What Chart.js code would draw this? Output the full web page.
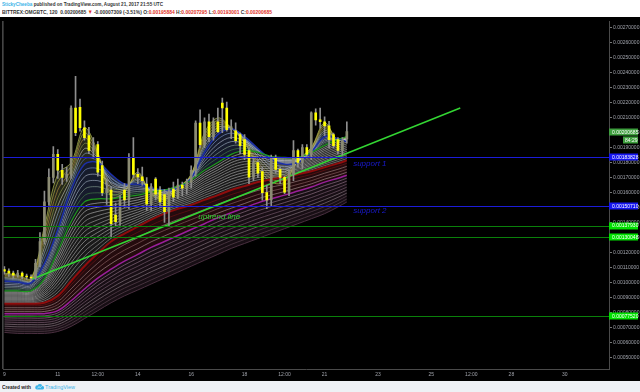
<!DOCTYPE html>
<html><head><meta charset="utf-8">
<script src="https://cdn.jsdelivr.net/npm/chart.js@4.4.1/dist/chart.umd.min.js"></script>
<style>
html,body{margin:0;padding:0;background:#fff;width:640px;height:392px;overflow:hidden;font-family:"Liberation Sans",Arial,sans-serif;}
.ln{position:absolute;left:2px;white-space:nowrap;font-weight:bold;font-size:6px;line-height:7px;color:#333;transform-origin:0 50%;}
#h1{top:1px;}
#h2{top:8.5px;}
.u{color:#3cb4e8}
.r{color:#e0301e}
#wrap{position:absolute;left:0;top:17px;width:640px;height:364px;background:#000;}
#foot{position:absolute;left:0;top:381px;width:640px;height:11px;background:#eef1f5;}
#f1{top:2.5px;color:#222;}
#f2{top:2.5px;left:45px;color:#3cb4e8;font-weight:normal;}
#logo{position:absolute;left:35px;top:2px;}
</style></head>
<body>
<div id="h1" class="ln"><span class="u">StickyCheeba</span> published on TradingView.com, August 21, 2017 21:55 UTC</div>
<div id="h2" class="ln">BITTREX:OMGBTC, 120&nbsp; 0.00200685 <span class="r">&#9660;</span> -0.00007309 (-3.51%) O:<span class="r">0.00195884</span> H:<span class="r">0.00207295</span> L:<span class="r">0.00193001</span> C:<span class="r">0.00200685</span></div>
<div id="wrap"><canvas id="c" width="640" height="364"></canvas></div>
<div id="foot">
<div id="f1" class="ln">Created with</div>
<svg id="logo" width="9" height="7" viewBox="0 0 9 7"><path d="M2 6.5h5.2a1.8 1.8 0 0 0 .2-3.6A2.6 2.6 0 0 0 2.6 2.4 2 2 0 0 0 2 6.5z" fill="#3cb4e8"/><path d="M2.5 5l1.5-1.3 1.2.9 1.6-1.6" stroke="#fff" stroke-width=".7" fill="none"/></svg>
<div id="f2" class="ln">TradingView</div>
</div>
<script>
// ---- candle data (2017-08-09 00:00 + hours), prices in 1e-5 BTC ----
const hours = [0,4,8,12,16,20,24,28,32,36,40,44,48,52,56,60,64,68,72,76,80,84,88,92,96,100,104,108,112,116,120,124,128,132,136,140,144,148,152,156,160,164,168,172,176,180,184,188,192,196,200,204,208,212,216,220,224,228,232,236,240,244,248,252,256,260,264,268,272,276,280,284,288,292,296,300,304,308];
const opens = [108.5,107.5,106.2,104.8,106.2,104.2,103.6,102.9,112.8,127.3,153.8,170.2,185.5,174.9,170.2,172.2,216.5,217.0,203.3,198.0,188.1,192.1,178.0,160.0,161.7,145.0,140.6,161.7,155.1,183.5,172.2,170.5,165.7,152.4,169.0,161.7,158.6,147.3,162.3,157.0,165.0,163.0,167.0,174.9,206.4,192.0,207.3,197.4,207.3,219.8,216.5,202.0,201.3,198.7,195.4,188.1,170.3,180.1,174.0,160.0,155.1,183.5,175.5,170.2,160.3,172.2,188.1,180.2,190.1,185.5,213.2,208.6,207.3,204.6,198.7,195.4,188.1,195.884];
const highs = [110.5,109.0,107.5,108.0,107.0,105.5,105.0,115.4,133.2,161.0,175.9,190.7,188.8,178.9,176.9,218.0,237.6,222.4,208.0,203.6,196.7,194.0,181.0,169.0,164.0,153.0,158.0,166.0,186.0,196.7,176.0,177.0,170.0,166.0,170.0,164.0,162.0,163.0,167.0,169.0,167.0,169.0,177.9,208.0,215.2,210.0,212.5,210.0,216.5,223.1,220.5,208.6,206.6,199.7,198.7,189.7,182.8,181.8,176.9,165.0,185.0,185.0,177.0,171.0,174.9,194.7,189.0,192.0,192.0,214.0,216.0,216.5,210.6,207.6,199.7,196.7,196.7,207.295];
const lows = [105.5,104.0,103.0,103.5,102.5,102.0,101.0,102.0,110.5,125.5,151.5,166.5,169.5,165.5,167.5,169.5,198.0,201.0,195.0,186.0,183.0,171.0,158.0,152.0,130.6,137.0,138.0,150.0,149.3,170.0,166.0,165.0,148.0,148.0,155.0,150.0,140.0,137.3,154.0,156.0,158.0,159.0,163.0,171.0,190.0,190.0,194.0,195.0,200.0,200.0,201.0,196.0,193.0,186.0,182.0,166.0,168.0,170.0,155.0,149.3,151.0,173.0,166.0,159.3,158.0,168.0,177.0,176.0,184.0,182.0,205.0,203.0,198.0,190.0,190.0,186.0,185.0,193.001];
const closes = [107.5,106.2,104.8,106.2,104.2,103.6,102.9,112.8,127.3,153.8,170.2,185.5,174.9,170.2,172.2,216.5,200.0,203.3,196.7,188.1,190.0,173.6,160.0,162.0,139.2,140.6,155.0,155.1,183.5,172.2,170.5,168.0,152.4,164.0,159.0,153.8,147.3,160.3,157.0,165.0,163.0,167.0,174.9,206.4,192.0,207.3,197.4,207.3,200.7,216.5,202.0,204.0,194.7,191.4,185.5,170.3,180.1,172.9,160.0,155.1,183.5,175.5,170.2,160.3,172.2,188.1,180.2,190.1,185.5,213.2,208.6,207.3,204.6,195.4,191.4,188.1,194.7,200.685];

// ---- moving-average ribbon guide lines, 1e-5 BTC ----
const ribHours  = [0,12,24,36,48,60,72,84,96,108,120,132,144,156,168,180,192,204,216,228,240,252,264,276,288,300,308];
const ribTop    = [106.2,104.8,102.8,137.2,172.2,180.1,203.3,186.8,157.1,160.3,173.6,159.0,155.1,163.0,172.2,200.0,209.9,203.3,193.4,176.9,167.0,167.0,181.5,190.1,206.6,194.7,197.4];
const ribBlue   = [100.9,100.3,99.6,112.8,135.3,161.7,178.9,180.1,172.2,165.7,165.7,163.0,161.7,163.0,169.6,186.8,198.7,202.6,197.4,189.4,182.1,178.9,180.1,186.8,197.4,196.0,194.0];
const ribGreen  = [94.3,94.3,94.3,102.3,120.7,140.5,153.8,155.8,155.8,157.1,158.3,160.3,161.7,164.3,168.3,174.9,180.1,185.5,188.1,186.8,184.1,183.5,183.5,186.8,191.4,195.4,197.4];
const ribRed    = [85.7,85.7,85.7,86.4,91.0,100.9,110.8,119.4,127.3,132.6,137.2,141.9,145.9,149.1,151.8,155.1,158.3,161.7,164.3,167.0,168.9,170.2,172.2,174.2,176.9,179.5,181.5];
const ribPurple = [79.1,79.1,79.1,79.1,81.1,87.7,95.6,102.9,108.8,114.2,118.7,123.4,127.3,131.3,135.3,139.2,143.2,146.5,149.8,153.1,155.8,158.3,161.0,163.7,167.0,169.6,171.6];
const ribBottom = [66.6,65.9,65.9,65.9,67.2,70.6,75.8,81.1,86.4,91.0,94.9,98.9,102.9,106.8,110.8,114.8,118.7,122.7,126.0,129.3,132.6,135.9,139.2,142.5,145.9,150.4,153.7];

// ---- drawings ----
const trendHours = [25.2, 410];
const trendPrices = [0.0010223, 0.002165];
const levels = [0.00183828, 0.00150710, 0.00137930, 0.00130048, 0.00077520];
const levelKinds = ['blue','blue','green','green','green'];
const lastPrice = 0.00200685;
const countdown = '84:29';
const notes = [
  {text:'uptrend line', h:174.4, p:0.0014385, kind:'green'},
  {text:'support 1', h:313.7, p:0.0017951, kind:'blue'},
  {text:'support 2', h:313.7, p:0.0014781, kind:'blue'}
];

// ---- axes ----
const yTicks = [0.0005,0.0006,0.0007,0.0008,0.0009,0.0010,0.0011,0.0012,0.0013,0.0014,0.0015,0.0016,0.0017,0.0018,0.0019,0.0020,0.0021,0.0022,0.0023,0.0024,0.0025,0.0026,0.0027];
const xTickHours = [0,48,84,120,168,216,252,288,336,384,420,456,504];
const xTickLabels = ['9','11','12:00','14','16','18','12:00','21','23','25','12:00','28','30'];

const U = 1e-5;
const bodies = hours.map((h,i)=>({x:h, y:[opens[i]*U, closes[i]*U]}));
const bodyColors = hours.map((h,i)=> closes[i] < opens[i] ? '#ffff00' : '#8c8c74');
const wicks = hours.map((h,i)=>({x:h, y:[lows[i]*U, highs[i]*U]}));
const rib = arr => ribHours.map((h,i)=>({x:h, y:arr[i]*U}));

// texture of the ribbon: thin strokes following the two bounding guide curves of each band
const bands = [
  {a:3, b:4, n:7,  colors:['#c8c44e','#c99a48','#9aa850','#d6d6c8','#9bb9e2','#5d7fd0']},
  {a:4, b:5, n:6,  colors:['#8aa6dc','#c4cde0','#b6c6d6','#98b4a0','#4f8f4f']},
  {a:5, b:6, n:13, colors:['#cfcfcf','#b5b5b5','#c4c4c4','#a8a8a8']},
  {a:6, b:7, n:5,  colors:['#7c1616','#b29494','#9a7070','#c0a8a8']},
  {a:7, b:8, n:9,  colors:['#a8849c','#8a6a80','#9c8a94','#6c5060']}
];

const ctx = document.getElementById('c').getContext('2d');
function ribLine(data, color, width, order, fillTarget, fillColor){
  return {type:'line', data, borderColor:color, borderWidth:width, pointRadius:0, tension:0.35,
    order, fill: fillTarget===null ? false : {target:fillTarget}, backgroundColor: fillColor};
}

const ribbonTexture = {
  id:'ribbonTexture',
  beforeDatasetsDraw(chart){
    const g = chart.ctx, a = chart.chartArea;
    g.save();
    g.beginPath(); g.rect(a.left,a.top,a.right-a.left,a.bottom-a.top); g.clip();
    g.lineWidth = 0.7;
    bands.forEach(bd=>{
      const A = chart.getDatasetMeta(bd.a).data, B = chart.getDatasetMeta(bd.b).data;
      for(let k=1;k<bd.n;k++){
        const t = k/bd.n;
        const L = (p,q)=>p+(q-p)*t;
        g.strokeStyle = bd.colors[Math.floor(t*bd.colors.length)];
        g.globalAlpha = 0.8;
        g.beginPath();
        for(let i=0;i<A.length;i++){
          const x = L(A[i].x,B[i].x), y = L(A[i].y,B[i].y);
          if(i===0){ g.moveTo(x,y); }
          else {
            g.bezierCurveTo(L(A[i-1].cp2x,B[i-1].cp2x), L(A[i-1].cp2y,B[i-1].cp2y),
                            L(A[i].cp1x,B[i].cp1x), L(A[i].cp1y,B[i].cp1y), x, y);
          }
        }
        g.stroke();
      }
    });
    g.restore();
  }
};

const overlay = {
  id:'overlay',
  afterDatasetsDraw(chart){
    const {ctx:g, chartArea:a, scales:{x,y}} = chart;
    g.save();
    levels.forEach((v,i)=>{
      const py = Math.round(y.getPixelForValue(v));
      g.fillStyle = levelKinds[i]==='blue' ? '#1c1cd8' : '#0a800a';
      g.fillRect(a.left, py, a.right-a.left, 1);
    });
    g.font = 'italic 8px "Liberation Sans", Arial, sans-serif';
    g.textBaseline = 'middle';
    notes.forEach(n=>{
      g.fillStyle = n.kind==='green' ? '#2fcc2f' : '#1a1ad0';
      g.fillText(n.text, x.getPixelForValue(n.h), y.getPixelForValue(n.p));
    });
    g.fillStyle = '#707070';
    g.fillRect(a.left-1, a.top, 1, a.bottom-a.top);
    g.restore();
  },
  afterDraw(chart){
    const {ctx:g, chartArea:a, scales:{y}} = chart;
    g.save();
    g.font = '5px "Liberation Sans", Arial, sans-serif';
    g.textBaseline = 'middle';
    const box = (v, bg, fg, txt, x0, w) => {
      const py = y.getPixelForValue(v);
      g.fillStyle = bg; g.fillRect(x0, Math.round(py)-3.5, w, 7);
      g.fillStyle = fg; g.fillText(txt, x0+3, py+0.5);
    };
    levels.forEach((v,i)=>{
      if(levelKinds[i]==='blue') box(v,'#1616f0','#ffffff',v.toFixed(8),a.right,29);
      else box(v,'#00e000','#ffffff',v.toFixed(8),a.right,29);
    });
    box(lastPrice,'#3d9e3d','#ffffff',lastPrice.toFixed(8),a.right,29);
    const py = y.getPixelForValue(lastPrice)+8;
    g.fillStyle = '#3d9e3d'; g.fillRect(a.right+14, Math.round(py)-3.5, 15, 7);
    g.fillStyle = '#ffffff'; g.fillText(countdown, a.right+16, py+0.5);
    g.restore();
  }
};

Chart.defaults.font.family = '"Liberation Sans", Arial, sans-serif';
new Chart(ctx, {
  type:'bar',
  data:{datasets:[
    {type:'bar', data:bodies, backgroundColor:bodyColors, barThickness:2, grouped:false, order:0},
    {type:'bar', data:wicks, backgroundColor:'#8e8e8e', barThickness:1, grouped:false, order:1},
    {type:'line', data:trendHours.map((h,i)=>({x:h,y:trendPrices[i]})), borderColor:'#33d633', borderWidth:1.5, pointRadius:0, order:2, fill:false},
    ribLine(rib(ribTop), 'rgba(185,195,85,0.85)', 0.8, 10, 4, 'rgba(70,72,50,0.55)'),
    ribLine(rib(ribBlue), '#1c2fa8', 1.5, 9, 5, 'rgba(40,50,80,0.55)'),
    ribLine(rib(ribGreen), '#1f9a1f', 1.2, 8, 6, 'rgba(42,42,42,0.6)'),
    ribLine(rib(ribRed), '#8e0c0c', 2, 7, 7, 'rgba(60,18,24,0.6)'),
    ribLine(rib(ribPurple), '#9a1f9a', 1.5, 6, 8, 'rgba(45,28,40,0.5)'),
    ribLine(rib(ribBottom), '#4a3040', 1, 5, null, 'transparent')
  ]},
  options:{
    responsive:false, animation:false, events:[],
    layout:{padding:{left:3,right:0,top:0,bottom:0}, autoPadding:false},
    plugins:{legend:{display:false}, tooltip:{enabled:false}, filler:{drawTime:'beforeDatasetsDraw'}},
    scales:{
      x:{type:'linear', min:-0.9, max:543.8, offset:false,
        grid:{display:false, drawTicks:false},
        border:{display:true, color:'#4a4a4a'},
        afterBuildTicks:s=>{ s.ticks = xTickHours.map(v=>({value:v})); },
        afterFit:s=>{ s.height = 12; },
        ticks:{autoSkip:false, maxRotation:0, padding:3, color:'#a0a3ab', font:{size:5},
          callback:(v)=>{ const k = xTickHours.indexOf(v); return k>=0 ? xTickLabels[k] : ''; }}
      },
      y:{type:'linear', position:'right', min:0.00042129, max:0.00274623,
        grid:{display:true, drawOnChartArea:false, drawTicks:true, tickLength:3, color:'#777'},
        border:{display:true, color:'#4a4a4a'},
        afterBuildTicks:s=>{ s.ticks = yTicks.map(v=>({value:v})); },
        afterFit:s=>{ s.width = 31; },
        ticks:{autoSkip:false, padding:1, color:'#a0a3ab', font:{size:5},
          callback:(v)=>Number(v).toFixed(8)}
      }
    }
  },
  plugins:[ribbonTexture, overlay]
});

function fit(id, w){
  const el = document.getElementById(id);
  const r = el.getBoundingClientRect().width;
  el.style.transform = 'scaleX(' + (w/r) + ')';
}
fit('h1',161); fit('h2',270); fit('f1',29); fit('f2',30);
</script>
</body></html>
